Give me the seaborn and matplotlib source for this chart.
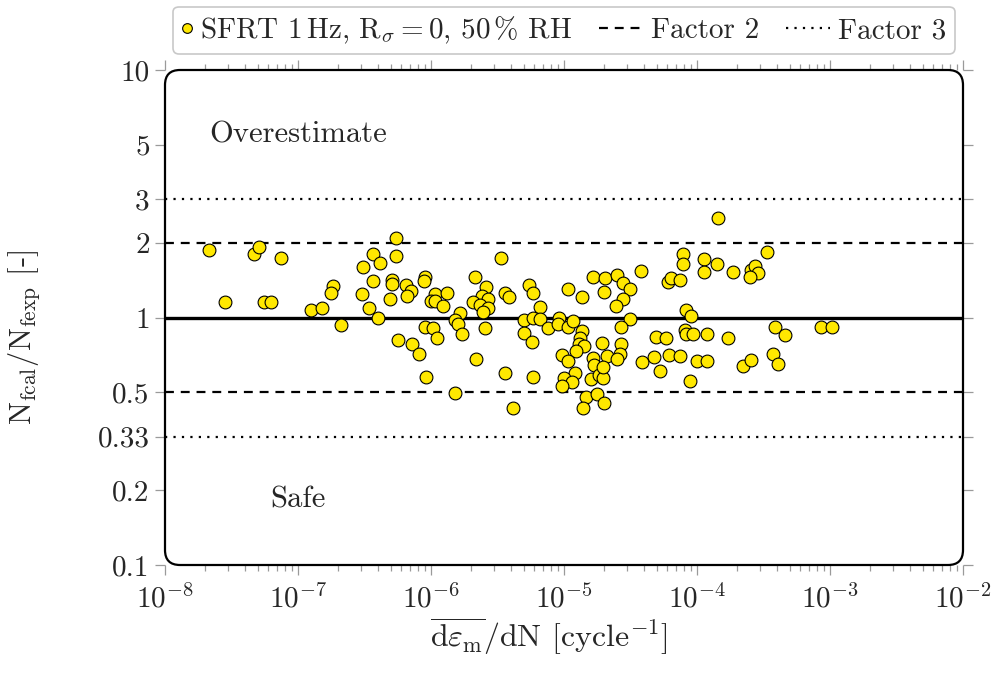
import numpy as np
import pandas as pd
import matplotlib
matplotlib.use("Agg")
import matplotlib.pyplot as plt
import seaborn as sns
from matplotlib.patches import FancyBboxPatch
from matplotlib.lines import Line2D
from matplotlib.legend_handler import HandlerLine2D
from matplotlib.ticker import FixedLocator, FixedFormatter, LogLocator, NullFormatter, NullLocator

# ---------------- data ----------------
strain_rate = [
    2.14e-8, 2.82e-8, 4.67e-8, 5.09e-8, 7.45e-8, 5.55e-8, 6.27e-8, 1.25e-7, 1.51e-7, 2.10e-7,
    1.83e-7, 1.77e-7, 3.03e-7, 3.42e-7, 4.00e-7, 3.08e-7, 3.66e-7, 4.14e-7, 5.46e-7, 5.46e-7,
    3.66e-7, 5.09e-7, 5.09e-7, 4.92e-7, 6.49e-7, 7.08e-7, 6.61e-7, 9.02e-7, 8.85e-7, 1.07e-6,
    1.00e-6, 1.07e-6, 1.23e-6, 1.32e-6, 9.02e-7, 1.04e-6, 1.11e-6, 5.65e-7, 7.19e-7, 8.13e-7,
    9.16e-7, 1.51e-6, 1.65e-6, 1.51e-6, 1.60e-6, 1.71e-6, 2.14e-6, 2.59e-6, 2.42e-6, 2.69e-6,
    2.07e-6, 2.33e-6, 2.69e-6, 2.46e-6, 2.55e-6, 2.18e-6, 3.36e-6, 3.60e-6, 3.85e-6, 3.60e-6,
    4.14e-6, 5.46e-6, 5.85e-6, 6.61e-6, 5.00e-6, 5.85e-6, 6.61e-6, 7.59e-6, 5.00e-6, 5.74e-6,
    5.85e-6, 9.16e-6, 9.02e-6, 1.07e-5, 1.17e-5, 1.07e-5, 1.36e-5, 1.65e-5, 1.36e-5, 1.32e-5,
    1.30e-5, 1.41e-5, 1.23e-5, 9.66e-6, 1.07e-5, 1.65e-5, 1.68e-5, 1.21e-5, 1.00e-5, 1.15e-5,
    9.66e-6, 1.60e-5, 1.46e-5, 1.77e-5, 2.00e-5, 1.39e-5, 2.00e-5, 1.93e-5, 1.83e-5, 1.96e-5,
    2.03e-5, 2.50e-5, 2.78e-5, 3.13e-5, 2.78e-5, 2.46e-5, 3.13e-5, 2.69e-5, 2.10e-5, 1.96e-5,
    2.69e-5, 2.64e-5, 2.50e-5, 3.79e-5, 3.85e-5, 4.75e-5, 5.27e-5, 4.92e-5, 5.85e-5, 6.15e-5,
    7.45e-5, 6.05e-5, 6.38e-5, 7.45e-5, 7.85e-5, 7.85e-5, 1.13e-4, 1.13e-4, 1.41e-4, 8.26e-5,
    9.02e-5, 8.13e-5, 8.26e-5, 9.33e-5, 1.19e-4, 1.00e-4, 1.19e-4, 8.85e-5, 1.44e-4, 1.87e-4,
    2.55e-4, 2.73e-4, 2.88e-4, 2.50e-4, 3.36e-4, 1.71e-4, 3.85e-4, 4.59e-4, 8.55e-4, 1.04e-3,
    2.22e-4, 2.55e-4, 3.72e-4, 4.06e-4,
]
life_ratio = [
    1.87, 1.16, 1.81, 1.93, 1.74, 1.15, 1.16, 1.07, 1.09, 0.93,
    1.34, 1.26, 1.24, 1.09, 1.00, 1.60, 1.81, 1.66, 2.09, 1.77,
    1.40, 1.42, 1.36, 1.19, 1.35, 1.28, 1.22, 1.46, 1.40, 1.24,
    1.17, 1.17, 1.11, 1.26, 0.916, 0.908, 0.826, 0.811, 0.782, 0.713,
    0.575, 0.495, 1.04, 0.977, 0.942, 0.857, 1.46, 1.33, 1.22, 1.19,
    1.15, 1.12, 1.09, 1.05, 0.908, 0.679, 1.74, 1.26, 1.21, 0.597,
    0.431, 1.35, 1.26, 1.10, 0.977, 1.00, 0.986, 0.908, 0.865, 0.796,
    0.575, 0.995, 0.942, 0.916, 0.968, 1.30, 1.21, 1.46, 0.881, 0.826,
    0.782, 0.767, 0.733, 0.705, 0.667, 0.686, 0.643, 0.597, 0.570, 0.548,
    0.528, 0.565, 0.478, 0.491, 0.452, 0.431, 1.27, 0.789, 0.586, 0.570,
    1.45, 1.49, 1.38, 1.30, 1.19, 1.11, 0.986, 0.916, 0.698, 0.631,
    0.782, 0.713, 0.679, 1.54, 0.661, 0.692, 0.608, 0.834, 0.826, 0.705,
    0.698, 1.39, 1.45, 1.42, 1.81, 1.64, 1.72, 1.53, 1.64, 1.07,
    1.01, 0.889, 0.857, 0.857, 0.857, 0.667, 0.667, 0.553, 2.52, 1.53,
    1.56, 1.61, 1.51, 1.46, 1.84, 0.826, 0.916, 0.849, 0.916, 0.916,
    0.637, 0.673, 0.713, 0.649,
]

y_ticks = [0.1, 0.2, 0.33, 0.5, 1, 2, 3, 5, 10]
y_tick_labels = ["0.1", "0.2", "0.33", "0.5", "1", "2", "3", "5", "10"]
x_ticks = [1e-8, 1e-7, 1e-6, 1e-5, 1e-4, 1e-3, 1e-2]
x_tick_labels = [r"$10^{-8}$", r"$10^{-7}$", r"$10^{-6}$", r"$10^{-5}$",
                 r"$10^{-4}$", r"$10^{-3}$", r"$10^{-2}$"]
factor2_levels = [2, 0.5]
factor3_levels = [3, 0.33]
series_label = r"SFRT 1$\,$Hz, R$_\sigma=0$, 50$\,$% RH"

df = pd.DataFrame({"rate": strain_rate, "ratio": life_ratio})

# ---------------- style ----------------
sns.set_style("white")
plt.rcParams["font.family"] = ["cmr10", "DejaVu Serif"]
plt.rcParams["mathtext.fontset"] = "cm"
plt.rcParams["axes.unicode_minus"] = False
plt.rcParams["axes.formatter.use_mathtext"] = True

FS = 21
DASH = (0, (4.0, 3.1))
DOT = (0, (1.0, 2.8))

fig = plt.figure(figsize=(9.98, 6.75), dpi=100)
ax = fig.add_axes([165 / 998, 1 - 565 / 675, 798 / 998, 495 / 675])

ax.set_xscale("log")
ax.set_yscale("log")
ax.set_xlim(1e-8, 1e-2)
ax.set_ylim(0.1, 10)

yellow = "#FFE800"
sns.scatterplot(data=df, x="rate", y="ratio", ax=ax, s=85, color=yellow,
                edgecolor="black", linewidth=0.8, zorder=5, legend=False)

ax.axhline(1, color="black", lw=2.4, zorder=3)
for lv in factor2_levels:
    ax.axhline(lv, color="black", lw=1.6, ls=DASH, zorder=3)
for lv in factor3_levels:
    ax.axhline(lv, color="black", lw=1.6, ls=DOT, zorder=3)

ax.text(1e-7, 5.46, "Overestimate", ha="center", va="center", fontsize=22)
ax.text(1e-7, 0.183, "Safe", ha="center", va="center", fontsize=22)

# spines hidden, rounded frame drawn instead
for sp in ax.spines.values():
    sp.set_visible(False)
r = 15 / 798
frame = FancyBboxPatch((0, 0), 1, 1, boxstyle=f"round,pad=0,rounding_size={r}",
                       mutation_aspect=798 / 495, transform=ax.transAxes,
                       fill=False, edgecolor="black", lw=1.6, zorder=6, clip_on=False)
ax.add_patch(frame)

ax.yaxis.set_major_locator(FixedLocator(y_ticks))
ax.yaxis.set_major_formatter(FixedFormatter(y_tick_labels))
ax.yaxis.set_minor_locator(NullLocator())
ax.xaxis.set_major_locator(FixedLocator(x_ticks))
ax.xaxis.set_major_formatter(FixedFormatter(x_tick_labels))
ax.xaxis.set_minor_locator(LogLocator(base=10, subs=np.arange(2, 10), numticks=100))
ax.xaxis.set_minor_formatter(NullFormatter())

ax.tick_params(which="both", direction="out", color="#9a9a9a", width=0.9,
               top=True, right=True, bottom=True, left=True, labelsize=FS)
ax.tick_params(which="major", length=7)
ax.tick_params(which="minor", length=4)
ax.tick_params(axis="x", pad=7)
ax.tick_params(axis="y", pad=4)

ax.set_xlabel(r"$\overline{\mathrm{d}\varepsilon_\mathrm{m}}/\mathrm{dN}$ [cycle$^{-1}$]",
              fontsize=23)
ax.xaxis.set_label_coords((549 - 165) / 798, (565 - 615) / 495)
ax.set_ylabel(r"N$_\mathrm{fcal}$/N$_\mathrm{fexp}$ [-]", fontsize=22)
ax.yaxis.set_label_coords((42 - 165) / 798, 0.5 - 20 / 495)


class LongLineHandler(HandlerLine2D):
    """Line handle that extends to the left of the (short) handle box."""
    def get_xdata(self, legend, xdescent, ydescent, width, height, fontsize):
        xdata, xm = super().get_xdata(legend, xdescent, ydescent, width, height, fontsize)
        L = 1.5 * fontsize
        return np.array([-xdescent + width - L, -xdescent + width]), xm


handles = [
    Line2D([], [], ls="none", marker="o", markersize=7, markerfacecolor=yellow,
           markeredgecolor="black", markeredgewidth=0.8),
    Line2D([], [], color="black", lw=1.6, ls=DASH),
    Line2D([], [], color="black", lw=1.6, ls=DOT),
]
labels = [series_label, "Factor 2", "Factor 3"]
leg = ax.legend(handles, labels, loc="lower center", bbox_to_anchor=(0.5, 1.032),
                ncol=3, fontsize=21, frameon=True, fancybox=True, borderaxespad=0,
                handlelength=0.35, handletextpad=0.3, columnspacing=2.05,
                borderpad=0.28,
                handler_map={handles[1]: LongLineHandler(), handles[2]: LongLineHandler()})
leg.get_frame().set_edgecolor("#bbbbbb")
leg.get_frame().set_linewidth(1.2)

fig.savefig("out.png", dpi=100)
